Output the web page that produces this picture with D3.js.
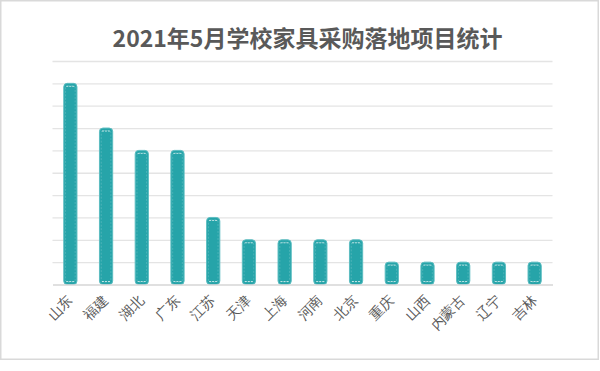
<!DOCTYPE html>
<html>
<head>
<meta charset="utf-8">
<script src="https://cdn.jsdelivr.net/npm/d3@7"></script>
<style>
  html, body { margin: 0; padding: 0; background: #fff; }
  svg { display: block; font-family: "Noto Sans CJK SC", "Noto Sans", sans-serif; }
  .grid line { stroke: #e4e4e4; stroke-width: 1.3; }
  .grid .domain { display: none; }
  .x-axis .domain { stroke: #d6d6d6; stroke-width: 1.6; }
  .x-axis text { fill: #595959; font-size: 14px; }
  .bar { fill: #26a4a9; stroke: #5cbdc1; stroke-width: 1; }
  .bar-in { fill: none; stroke: rgba(255,255,255,0.25); stroke-width: 0.7; stroke-dasharray: 2 1.5; }
  .bar-cap { stroke: rgba(255,255,255,0.75); stroke-width: 0.9; stroke-dasharray: 2 1; }
</style>
</head>
<body>
<svg id="chart" width="600" height="371"></svg>
<script>
// Data
const categories = ["山东", "福建", "湖北", "广东", "江苏", "天津", "上海", "河南", "北京", "重庆", "山西", "内蒙古", "辽宁", "吉林"];
const values = [9, 7, 6, 6, 3, 2, 2, 2, 2, 1, 1, 1, 1, 1];
const yTicks = [0, 1, 2, 3, 4, 5, 6, 7, 8, 9, 10];
const title = "2021年5月学校家具采购落地项目统计";

const data = categories.map((c, i) => ({ cat: c, value: values[i] }));

const svg = d3.select("#chart");
const width = 600, height = 371;
const margin = { top: 61, right: 47.5, bottom: 86.5, left: 52.5 };
const innerW = width - margin.left - margin.right;
const innerH = height - margin.top - margin.bottom;

// outer frame
svg.append("rect")
  .attr("x", 0.75).attr("y", 0.75)
  .attr("width", 597.5).attr("height", 358.5)
  .attr("fill", "#fff")
  .attr("stroke", "#d9d9d9")
  .attr("stroke-width", 1.5);

// title
svg.append("text")
  .attr("x", 307.5)
  .attr("y", 47)
  .attr("text-anchor", "middle")
  .attr("font-size", 23)
  .attr("font-weight", "bold")
  .attr("fill", "#595959")
  .text(title);

const g = svg.append("g").attr("transform", `translate(${margin.left},${margin.top})`);

const x = d3.scaleBand()
  .domain(categories)
  .range([0, innerW])
  .paddingInner(0.63)
  .paddingOuter(0.315);

const y = d3.scaleLinear()
  .domain([0, d3.max(yTicks)])
  .range([innerH, 0]);

// gridlines
g.append("g")
  .attr("class", "grid")
  .call(d3.axisLeft(y).tickValues(yTicks.slice(1)).tickSize(-innerW).tickFormat(""));

// bars
const bw = x.bandwidth();
g.append("g")
  .selectAll("rect")
  .data(data)
  .join("rect")
  .attr("class", "bar")
  .attr("x", d => x(d.cat))
  .attr("y", d => y(d.value))
  .attr("width", bw)
  .attr("height", d => innerH - y(d.value))
  .attr("rx", 3.5);

// inner dashed edge (texture look)
g.append("g")
  .selectAll("rect")
  .data(data)
  .join("rect")
  .attr("class", "bar-in")
  .attr("x", d => x(d.cat) + 1.8)
  .attr("y", d => y(d.value) + 2.5)
  .attr("width", bw - 3.6)
  .attr("height", d => innerH - y(d.value) - 5)
  .attr("rx", 2);

// brighter dashes near top and bottom
const caps = g.append("g");
data.forEach(d => {
  [y(d.value) + 3, innerH - 3].forEach(yy => {
    caps.append("line")
      .attr("class", "bar-cap")
      .attr("x1", x(d.cat) + 2.5)
      .attr("x2", x(d.cat) + bw - 2.5)
      .attr("y1", yy)
      .attr("y2", yy);
  });
});

// x axis
const gx = g.append("g")
  .attr("class", "x-axis")
  .attr("transform", `translate(0,${innerH})`)
  .call(d3.axisBottom(x).tickSize(0).tickSizeOuter(0));

gx.selectAll("text")
  .attr("text-anchor", "end")
  .attr("dx", 0)
  .attr("dy", 0)
  .attr("y", 0)
  .attr("transform", "translate(3,17) rotate(-45)");
</script>
</body>
</html>
